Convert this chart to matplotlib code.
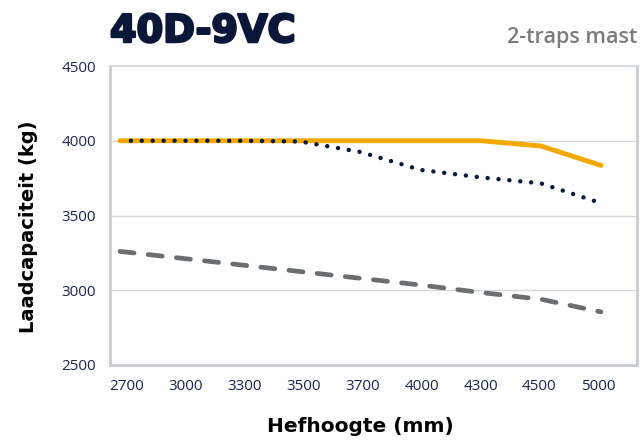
import matplotlib
matplotlib.use("Agg")
import matplotlib.pyplot as plt
import matplotlib.patheffects as pe
import numpy as np

categories = ["2700", "3000", "3300", "3500", "3700", "4000", "4300", "4500", "5000"]
series_orange = [4000, 4000, 4000, 4000, 4000, 4000, 4000, 3965, 3835]
series_dotted = [4000, 4000, 4000, 3995, 3925, 3805, 3755, 3715, 3583]
series_dashed = [3260, 3215, 3170, 3125, 3080, 3035, 2985, 2940, 2855]
yticks = [2500, 3000, 3500, 4000, 4500]

NAVY = "#0b1738"
ORANGE = "#f5a800"
GRAY = "#6b6e70"
FRAME = "#c9cdd1"

fig = plt.figure(figsize=(6.42, 4.41), dpi=100)
ax = fig.add_axes([110/642, 1-365/441, 527/642, 299/441])

x = np.arange(len(categories))
ax.plot(x, series_orange, color=ORANGE, lw=3.5, solid_capstyle="round", zorder=3)
ax.plot(x, series_dotted, color=NAVY, lw=3.2, linestyle=(0.02, (0.01, 2.45)),
        dash_capstyle="round", zorder=4)
ax.plot(x, series_dashed, color=GRAY, lw=3.4, linestyle=(0, (3.0, 3.0)),
        dash_capstyle="round", zorder=3)

ax.set_xlim(-0.166, 8.6)
ax.set_ylim(2500, 4500)
ax.set_yticks(yticks)
ax.set_yticklabels([str(v) for v in yticks])
ax.set_xticks(0.116 + 0.98*x)
ax.set_xticklabels(categories)
ax.tick_params(axis="both", length=0, labelsize=11, labelcolor="#1a2550")
ax.tick_params(axis="y", pad=10)
ax.tick_params(axis="x", pad=10)
for t in ax.get_xticklabels() + ax.get_yticklabels():
    t.set_fontfamily("Open Sans")

for yv in [3000, 3500, 4000]:
    ax.axhline(yv, color="#d5d7d9", lw=1.0, zorder=1)

for s in ["left", "bottom", "right"]:
    ax.spines[s].set_color(FRAME)
    ax.spines[s].set_linewidth(2.0)
ax.spines["top"].set_color("#d8dbde")
ax.spines["top"].set_linewidth(1.5)

fig.text(29/642, 1-227/441, "Laadcapaciteit (kg)", rotation=90, ha="center", va="center",
         fontsize=14, fontweight="bold", color="black", family="DejaVu Sans")
fig.text(360/642, 1-426/441, "Hefhoogte (mm)", ha="center", va="center",
         fontsize=14.5, fontweight="bold", color="black", family="DejaVu Sans")

fig.text(110/642, 1-42/441, "40D-9VC", ha="left", va="baseline",
         fontsize=27.5, fontweight="bold", color=NAVY, family="DejaVu Sans",
         path_effects=[pe.withStroke(linewidth=1.8, foreground=NAVY)])
fig.text(637/642, 1-43.5/441, "2-traps mast", ha="right", va="baseline",
         fontsize=15.5, fontweight="semibold", color="#7a7c7e", family="Open Sans")

fig.savefig("out.png", dpi=100)
